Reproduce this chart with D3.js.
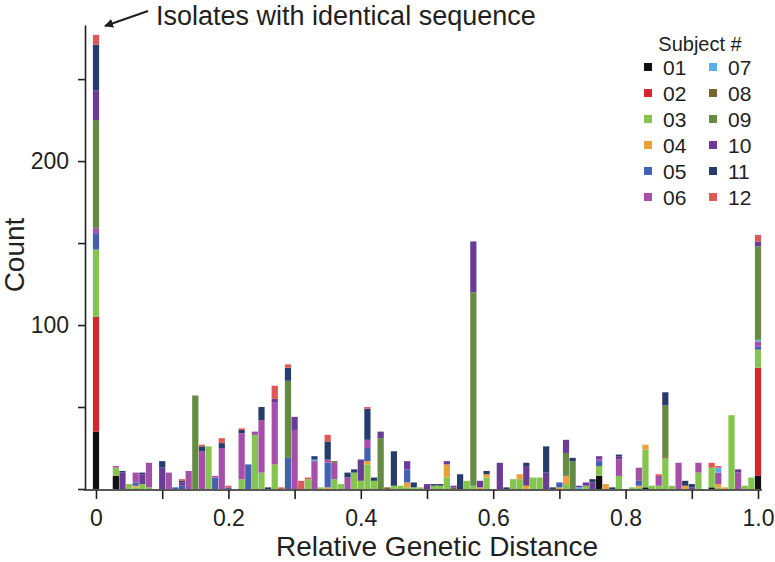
<!DOCTYPE html>
<html><head><meta charset="utf-8">
<script src="https://cdn.jsdelivr.net/npm/d3@7"></script>
<style>
html,body{margin:0;padding:0;background:#fff;}
text{font-family:"Liberation Sans",Arial,Helvetica,sans-serif;fill:#231f20;}
</style></head>
<body><svg id="chart" width="775" height="562"></svg>
<script>
// Subjects (stack order bottom -> top) and colours
const subjects = ["01","02","03","04","05","06","07","08","09","10","11","12"];
const colors = ["#111111","#d4262c","#86c450","#e9a13b","#4460b0","#a550a8","#5ab0e6","#7a6430","#648a44","#6a3c98","#283c6c","#de5858"];
// Counts per bin (bins of width 0.01 centred at 0.00 ... 1.00)
const s01 = [35,0,0,8,0,0,0,0,0,0, 0,0,0,0,0,0,0,0,0,0, 0,0,0,0,0,0,0,0,0,0, 0,0,0,0,0,0,0,0,0,0, 0,0,0,0,0,0,0,0,0,0, 0,0,0,0,0,0,0,0,0,0, 0,0,0,0,0,0,0,0,0,0, 0,0,0,0,0,0,8,0,0,0, 0,0,0,1,0,0,0,0,0,0, 0,0,0,1,0,0,0,0,0,0, 8];
const s02 = [70,0,0,0,0,0,0,0,0,0, 0,0,0,0,0,0,0,0,0,0, 0,0,0,0,0,0,0,0,0,0, 0,0,0,0,0,0,0,0,0,0, 0,0,0,0,0,0,0,0,0,0, 0,0,0,0,0,0,0,0,0,0, 0,0,0,0,0,0,0,0,0,0, 0,0,0,0,0,0,0,0,0,0, 0,0,0,0,0,0,0,0,0,0, 0,0,0,0,0,0,0,0,0,0, 66];
const s03 = [41,0,0,5,0,3,1,3,1,0, 0,0,0,0,0,0,0,26,0,0, 0,0,6,0,33,10,0,15,0,0, 0,0,6,0,1,0,6,3,0,10, 5,15,5,0,0,2,2,1,1,1, 0,2,2,7,0,0,5,2,0,7, 0,0,0,6,6,0,7,7,0,0, 0,3,0,0,2,0,6,0,0,8, 0,1,1,23,2,2,19,2,0,0, 0,10,0,12,1,0,45,0,2,7, 11];
const s04 = [0,0,0,0,0,0,1,0,0,0, 0,0,0,0,0,0,0,0,0,0, 0,0,0,0,0,0,0,0,0,0, 0,0,0,0,0,1,0,0,0,0, 0,2,0,0,0,0,0,3,0,0, 0,0,0,8,0,0,0,0,1,2, 0,0,0,0,3,2,0,0,0,0, 1,5,0,0,0,0,0,3,0,0, 0,0,1,3,0,0,0,0,0,2, 0,0,0,0,2,1,0,0,0,0, 0];
const s05 = [10,0,0,0,0,0,2,0,0,0, 0,0,1,2,0,0,0,0,7,0, 1,0,0,15,0,0,0,0,0,19, 0,0,0,0,0,15,0,0,0,0, 0,8,0,0,0,0,0,8,0,0, 0,0,0,0,0,0,0,0,0,0, 0,0,0,0,0,0,0,0,0,0, 3,0,0,0,0,0,3,0,0,0, 0,0,3,0,0,0,0,0,0,0, 0,0,0,0,0,0,0,0,0,0, 2];
const s06 = [3,0,0,1,0,0,6,0,15,0, 0,10,0,0,11,0,23,0,1,25, 0,0,28,0,2,32,0,38,0,0, 36,0,0,17,0,2,10,0,7,0, 0,5,0,0,0,0,0,0,0,0, 0,0,0,0,0,0,0,0,0,0, 0,0,0,0,0,0,0,0,0,0, 0,0,0,0,0,0,1,0,0,10, 0,0,8,0,0,6,0,0,16,0, 0,6,0,0,7,0,0,10,0,0, 3];
const s07 = [0,0,0,0,0,0,0,0,0,0, 0,0,0,0,0,0,0,0,0,0, 0,0,0,0,0,0,0,0,0,0, 0,0,0,1,0,0,0,0,0,0, 0,0,0,0,0,0,0,0,0,0, 0,0,0,0,0,0,0,0,0,0, 0,0,0,0,0,0,0,0,0,0, 0,0,0,1,0,0,0,0,0,0, 0,0,0,0,0,0,0,0,0,0, 0,0,0,0,3,0,0,0,0,0, 1];
const s08 = [0,0,0,0,0,0,0,0,0,0, 0,0,0,0,0,0,0,0,0,0, 0,0,0,0,0,0,0,0,0,0, 0,0,0,0,0,0,1,0,0,0, 0,0,0,0,1,0,0,0,0,0, 0,0,0,0,1,0,0,0,0,0, 0,0,0,0,0,0,0,0,0,0, 0,0,0,0,0,0,0,0,0,0, 0,0,0,0,0,0,1,0,0,0, 0,0,0,0,0,0,0,0,0,0, 0];
const s09 = [66,0,0,0,0,0,0,0,0,0, 0,0,0,0,0,57,0,0,0,0, 0,0,0,0,0,0,0,0,0,47, 0,0,0,0,0,0,0,0,0,0, 0,0,0,31,0,0,0,0,0,0, 0,0,0,0,0,0,0,118,0,0, 0,0,0,0,0,0,0,0,0,0, 0,14,17,0,0,0,0,0,0,0, 0,0,0,0,0,0,31,0,0,0, 0,0,0,0,0,0,0,0,0,0, 57];
const s10 = [18,0,0,0,10,0,0,6,0,0, 13,0,0,2,0,0,0,0,0,0, 0,0,0,0,0,0,0,2,0,0, 8,0,0,0,0,0,0,0,0,0, 13,0,0,4,0,0,0,5,0,0, 3,0,0,2,1,0,0,31,4,0, 0,16,0,0,0,12,0,0,10,0, 0,8,0,1,2,4,2,0,0,2, 0,0,0,0,0,0,0,0,0,0, 1,0,0,0,0,0,0,2,0,0, 3];
const s11 = [28,0,0,0,1,0,0,1,0,0, 4,0,0,1,0,0,3,0,0,3, 0,0,2,0,0,8,1,0,0,8, 0,0,0,2,0,11,0,0,3,2, 0,19,2,0,0,21,0,0,3,0, 0,1,1,0,0,9,0,0,0,2, 0,0,1,0,0,2,0,0,16,1, 0,0,2,0,0,2,0,0,1,1, 0,0,0,0,0,0,8,0,0,3, 2,0,0,0,0,0,0,0,0,0, 0];
const s12 = [6,0,0,0,0,0,0,0,0,0, 0,0,0,1,0,0,1,0,0,3, 1,0,1,0,0,0,0,8,1,2, 0,5,1,0,0,4,0,0,0,0, 0,1,0,0,0,0,0,0,0,0, 0,0,0,0,0,0,0,0,0,0, 0,0,0,0,0,0,0,0,0,0, 0,0,0,0,0,0,0,0,0,0, 0,0,0,0,0,1,0,0,0,0, 0,0,0,3,1,0,0,0,0,0, 4];
const series = [s01,s02,s03,s04,s05,s06,s07,s08,s09,s10,s11,s12];
const binWidth = 0.01;
const xTicks = [0,0.1,0.2,0.3,0.4,0.5,0.6,0.7,0.8,0.9,1.0];
const xTickLabels = {0:"0",0.2:"0.2",0.4:"0.4",0.6:"0.6",0.8:"0.8",1:"1.0"};
const yTicks = [0,50,100,150,200,250];
const yTickLabels = {100:"100",200:"200"};

const svg = d3.select("#chart");
const x = d3.scaleLinear().domain([0,1]).range([96,758]);
const y = d3.scaleLinear().domain([0,283]).range([489,25]);

const rows = series[0].map((_, i) => {
  const r = {d: i*binWidth};
  subjects.forEach((s, j) => r[s] = series[j][i]);
  return r;
});
const stacked = d3.stack().keys(subjects)(rows);
const bw = (x(binWidth) - x(0));

const g = svg.append("g");
stacked.forEach((layer, li) => {
  g.selectAll(null).data(layer.filter(d => d[1] > d[0])).enter().append("rect")
    .attr("x", d => x(d.data.d) - bw/2 + 0.2)
    .attr("width", bw - 0.4)
    .attr("y", d => y(d[1]))
    .attr("height", d => y(d[0]) - y(d[1]))
    .attr("fill", colors[li]);
});

// Y axis
const yAxis = svg.append("g").attr("transform","translate(85,0)")
  .call(d3.axisLeft(y).tickValues(yTicks).tickSize(7).tickSizeOuter(0).tickPadding(9)
    .tickFormat(d => yTickLabels[d] || ""));
yAxis.select(".domain").attr("stroke","#231f20").attr("stroke-width",1.6);
yAxis.selectAll(".tick line").attr("stroke","#231f20").attr("stroke-width",1.6);
yAxis.selectAll(".tick text").style("font-size","23px").attr("fill","#231f20")
  .style("font-family","Liberation Sans, Arial, sans-serif");

// X axis
const xAxis = svg.append("g").attr("transform","translate(0,490)")
  .call(d3.axisBottom(x).tickValues(xTicks).tickSize(9).tickSizeOuter(0).tickPadding(11)
    .tickFormat(d => xTickLabels[Math.round(d*10)/10] || ""));
xAxis.select(".domain").remove();
xAxis.append("line").attr("x1",84).attr("x2",762).attr("y1",0).attr("y2",0)
  .attr("stroke","#231f20").attr("stroke-width",1.6);
xAxis.selectAll(".tick line").attr("stroke","#231f20").attr("stroke-width",1.6);
xAxis.selectAll(".tick text").style("font-size","23px").attr("fill","#231f20")
  .style("font-family","Liberation Sans, Arial, sans-serif");

// Axis titles
svg.append("text").attr("x",437).attr("y",556).attr("text-anchor","middle")
  .style("font-size","28px").text("Relative Genetic Distance");
svg.append("text").attr("transform","translate(24,255) rotate(-90)").attr("text-anchor","middle")
  .style("font-size","28px").text("Count");

// Annotation
svg.append("defs").append("marker").attr("id","ah").attr("viewBox","0 0 10 10")
  .attr("refX",9).attr("refY",5).attr("markerWidth",9).attr("markerHeight",9)
  .attr("markerUnits","userSpaceOnUse").attr("orient","auto")
  .append("path").attr("d","M0,0 L10,5 L0,10 z").attr("fill","#231f20");
svg.append("line").attr("x1",148).attr("y1",11).attr("x2",105).attr("y2",26)
  .attr("stroke","#231f20").attr("stroke-width",2.2).attr("marker-end","url(#ah)");
svg.append("text").attr("x",156).attr("y",25).style("font-size","27px")
  .text("Isolates with identical sequence");

// Legend
const lg = svg.append("g");
lg.append("text").attr("x",700).attr("y",51).attr("text-anchor","middle")
  .style("font-size","20px").text("Subject #");
subjects.forEach((s, i) => {
  const col = Math.floor(i/6), row = i % 6;
  const cx = 644 + col*65, cy = 67 + row*26;
  lg.append("rect").attr("x",cx).attr("y",cy-4).attr("width",8).attr("height",8).attr("fill",colors[i]);
  lg.append("text").attr("x",cx+19).attr("y",cy).attr("dy","0.36em")
    .style("font-size","21px").text(s);
});
</script></body></html>
